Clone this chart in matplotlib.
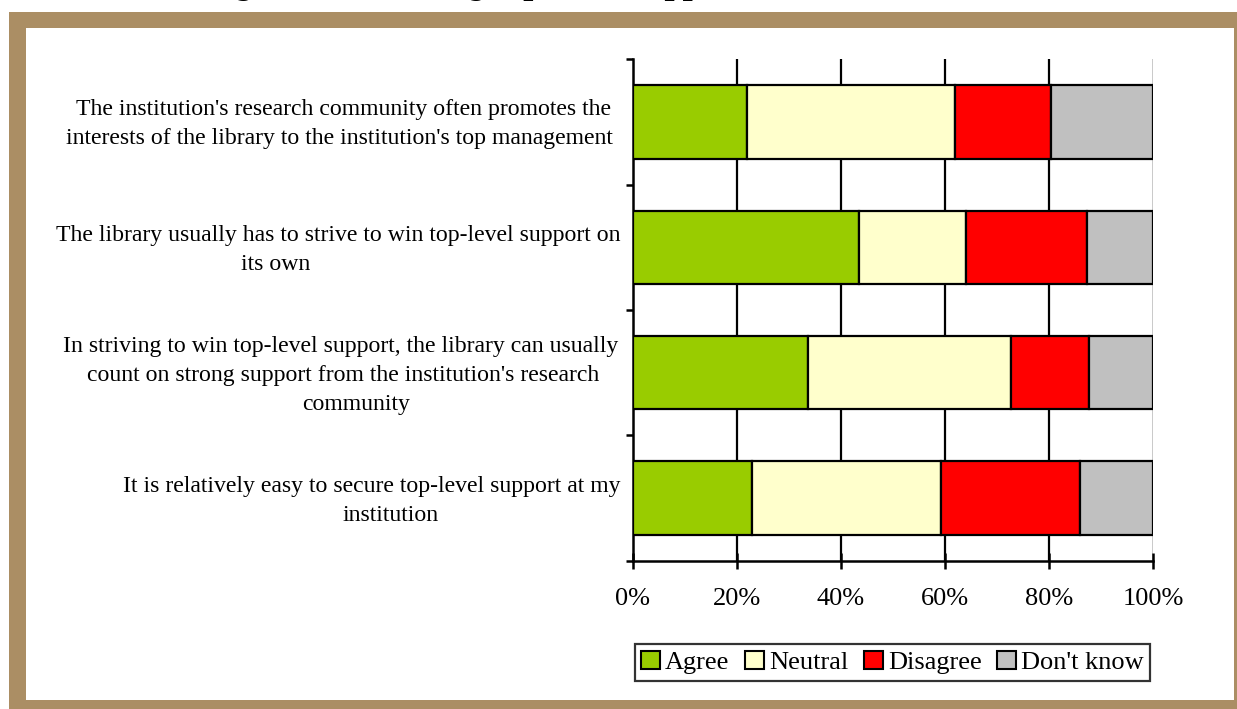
import matplotlib
matplotlib.use("Agg")
import matplotlib.pyplot as plt
import matplotlib.transforms as mtransforms
from matplotlib.patches import Rectangle, Patch
import numpy as np

plt.rcParams['font.family'] = ['Liberation Serif', 'DejaVu Serif']

categories = [
    "The institution's research community often promotes the\ninterests of the library to the institution's top management",
    "The library usually has to strive to win top-level support on\nits own",
    "In striving to win top-level support, the library can usually\ncount on strong support from the institution's research\ncommunity",
    "It is relatively easy to secure top-level support at my\ninstitution",
]
series_names = ["Agree", "Neutral", "Disagree", "Don't know"]
agree = [21.9, 43.5, 33.6, 22.9]
neutral = [40.0, 20.6, 39.1, 36.3]
disagree = [18.4, 23.2, 15.0, 26.8]
dont_know = [19.7, 12.7, 12.3, 14.0]
x_ticks = [0, 20, 40, 60, 80, 100]
x_tick_labels = ["0%", "20%", "40%", "60%", "80%", "100%"]
title_text = "Figure 7: Securing top-level support"

colors = ["#99CC00", "#FFFFCC", "#FF0000", "#C0C0C0"]

# layout: horizontal centre (px) of each wrapped line of the category labels
label_line_centers = [[343, 339], [338, 276], [341, 343, 356], [372, 391]]
line_step_px = 29

W, H = 1237, 709
fig = plt.figure(figsize=(W / 100, H / 100), dpi=100)
fig.patch.set_facecolor("white")

brown = "#AB8E64"
fig.patches.append(Rectangle((9 / W, 0), 1 - 9 / W, (H - 12) / H, transform=fig.transFigure,
                             facecolor=brown, edgecolor="none", zorder=-10))
fig.patches.append(Rectangle((26 / W, 9 / H), (1234 - 26) / W, (700 - 28) / H, transform=fig.transFigure,
                             facecolor="white", edgecolor="none", zorder=-9))

fig.text(204 / W, (H + 7) / H, title_text, fontsize=26, fontweight="bold", fontstyle="italic",
         ha="left", va="baseline", zorder=5)

ax = fig.add_axes([633 / W, (H - 560.8) / H, (1153 - 633) / W, (560.8 - 59.3) / H])
ax.set_facecolor("none")
ax.set_zorder(2)

ypos = np.arange(len(categories))
data = [agree, neutral, disagree, dont_know]
left = np.zeros(len(categories))
for vals, c, name in zip(data, colors, series_names):
    ax.barh(ypos, vals, left=left, height=0.585, color=c, edgecolor="black", linewidth=1.6,
            label=name, zorder=3)
    left = left + np.array(vals)

ax.set_xlim(0, 100)
ax.set_ylim(len(categories) - 0.5, -0.5)

for xv in x_ticks[1:-1]:
    ax.axvline(xv, color="black", linewidth=1.6, zorder=1)
ax.axvline(100, color="#C0C0C0", linewidth=1.2, zorder=1)

for s in ["top", "right"]:
    ax.spines[s].set_visible(False)
ax.spines["left"].set_linewidth(1.8)
ax.spines["bottom"].set_linewidth(1.8)

ax.set_xticks(x_ticks)
ax.set_xticklabels(x_tick_labels, fontsize=19)
ax.tick_params(axis="x", direction="inout", length=11, width=1.8, pad=14)

ax.set_yticks(np.arange(len(categories) + 1) - 0.5)
ax.set_yticklabels([])
ax.tick_params(axis="y", which="major", direction="out", length=5, width=1.8)

# category labels, one text per wrapped line
base = mtransforms.blended_transform_factory(fig.transFigure, ax.transData)
for i, label in enumerate(categories):
    lines = label.split("\n")
    n = len(lines)
    for j, line in enumerate(lines):
        dy_pt = -(j - (n - 1) / 2) * line_step_px * 0.72
        tr = mtransforms.offset_copy(base, fig=fig, x=0, y=dy_pt, units="points")
        fig.text(label_line_centers[i][j] / W, ypos[i], line, transform=tr, fontsize=17.1,
                 ha="center", va="center_baseline")

handles = [Patch(facecolor=c, edgecolor="black", linewidth=1.5) for c in colors]
leg = fig.legend(handles, series_names, loc="center", bbox_to_anchor=((635 + 1150) / 2 / W, 1 - (639 + 686) / 2 / H),
                 ncol=4, fontsize=19, frameon=True, fancybox=False, handlelength=0.7, handleheight=0.7,
                 handletextpad=0.2, columnspacing=0.6, borderpad=0.25, borderaxespad=0)
leg.get_frame().set_edgecolor("black")
leg.get_frame().set_linewidth(1.6)

fig.savefig("out.png", dpi=100)
